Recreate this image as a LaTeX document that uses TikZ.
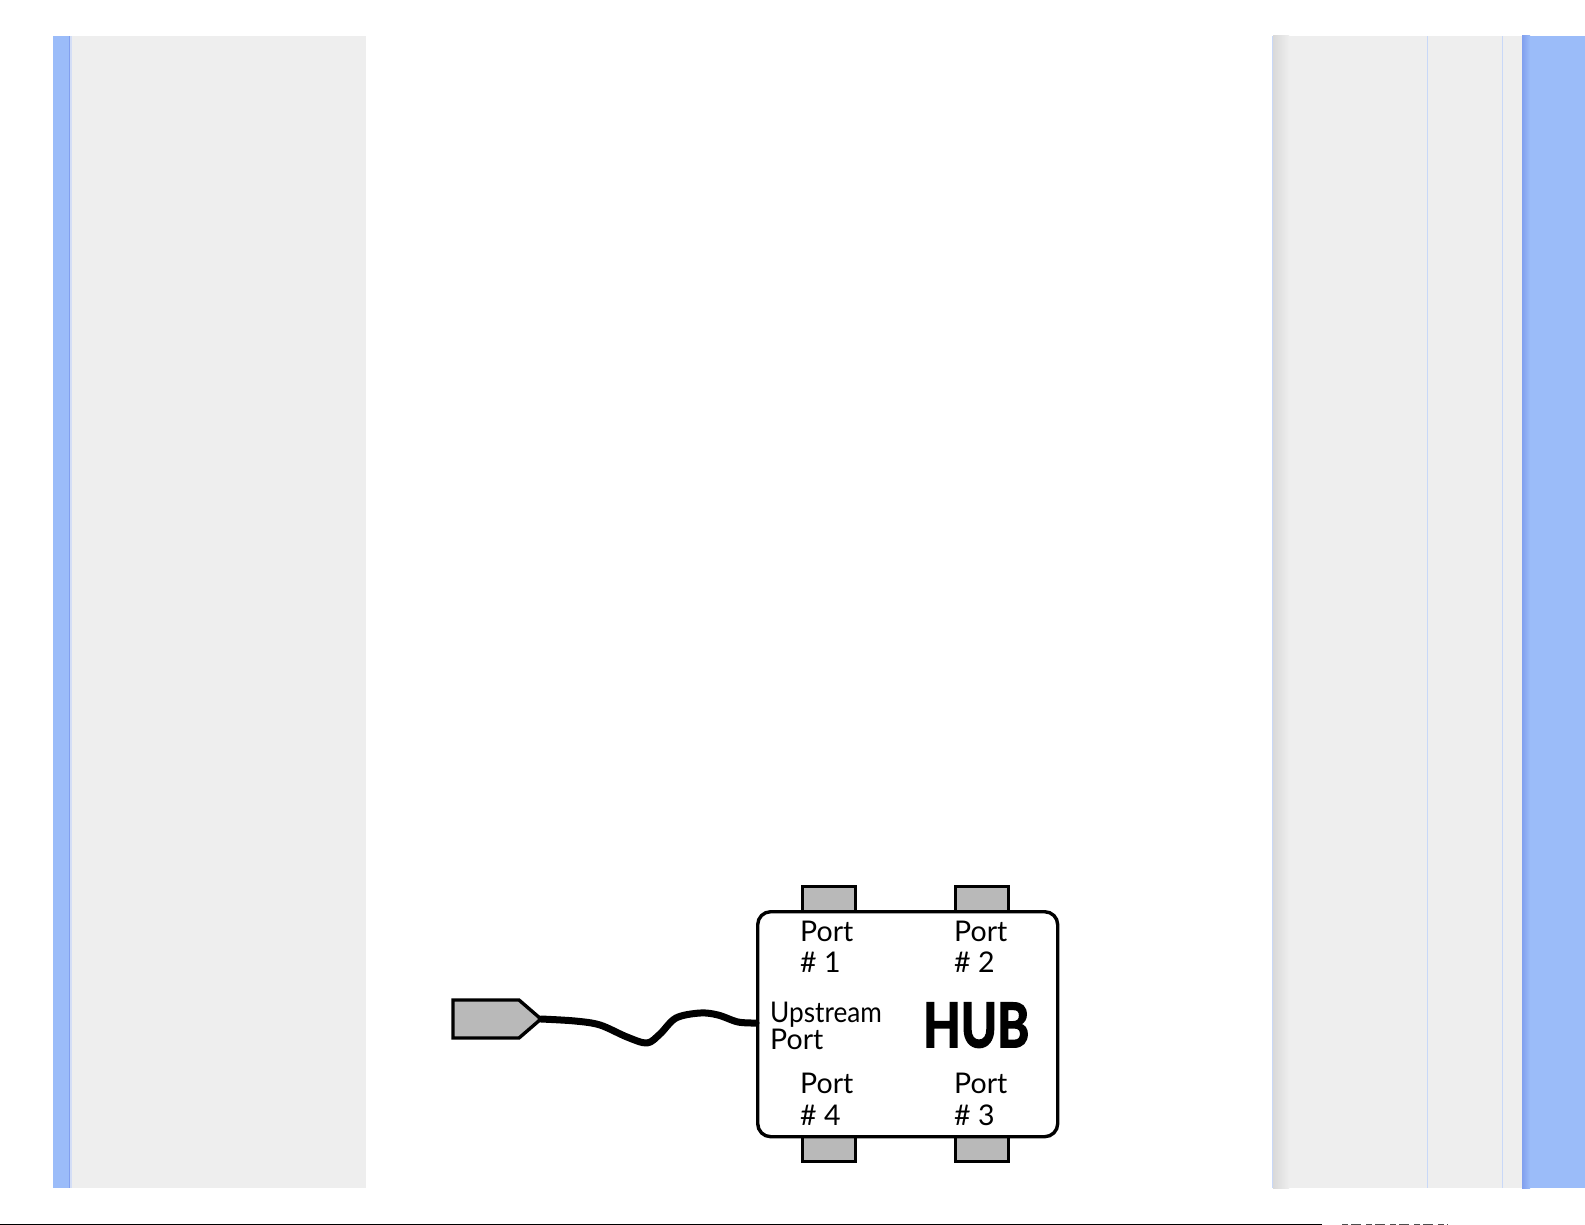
\documentclass[tikz,border=0pt]{standalone}
\usepackage{fontspec}
\setmainfont{Lato}
\newfontfamily\hubfont[FakeBold=3]{Lato}
\definecolor{stripblue}{HTML}{9BBCF9}
\definecolor{stripdark}{HTML}{819FEE}
\definecolor{striplight}{HTML}{D4DEF6}
\definecolor{panelgrey}{HTML}{EEEEEE}
\definecolor{panelshade}{HTML}{D9D9D9}
\definecolor{lineblue}{HTML}{C8D8F8}
\definecolor{portgrey}{HTML}{B9B9B9}
\tikzset{
  portbox/.style={draw=black, fill=portgrey, line width=3.4pt},
  hubbox/.style={draw=black, fill=white, line width=3.4pt, rounded corners=13pt, inner sep=0pt},
  cable/.style={draw=black, line width=7pt, line cap=round, line join=round},
  lbl/.style={inner sep=0pt, anchor=base west, font=\fontsize{28.5}{30}\selectfont},
}
\begin{document}
\begin{tikzpicture}[x=1pt,y=-1pt]
\useasboundingbox (0,0) rectangle (1585,1225);
\fill[white] (0,0) rectangle (1585,1225);
% left panel
\fill[stripblue] (53,36) rectangle (68.5,1188);
\fill[stripdark] (68.5,36) rectangle (70,1188);
\fill[striplight] (70,36) rectangle (72,1188);
\fill[panelgrey] (72,36) rectangle (366,1188);
% right panel
\fill[panelgrey] (1272,36) rectangle (1522,1188);
\shade[left color=panelshade, right color=panelgrey] (1273,36) rectangle (1289,1188);
\fill[lineblue] (1272,36) rectangle (1273.2,1188);
\fill[lineblue] (1426.5,36) rectangle (1427.7,1188);
\fill[lineblue] (1501.5,36) rectangle (1502.7,1188);
\fill[stripblue] (1522,36) rectangle (1585,1188);
\shade[left color=stripdark, right color=stripblue] (1522,36) rectangle (1530,1188);
% bottom line
\draw[black, line width=1.5pt] (0,1224.3) -- (1322,1224.3);
\draw[black!70, line width=1.2pt, dash pattern=on 6pt off 3pt on 10pt off 5pt] (1342,1224.3) -- (1448,1224.3);
% ports
\node[portbox, minimum width=53pt, minimum height=25pt, anchor=north west, inner sep=0pt] (p1) at (801,885) {};
\node[portbox, minimum width=53pt, minimum height=25pt, anchor=north west, inner sep=0pt] (p2) at (954,885) {};
\node[portbox, minimum width=53pt, minimum height=25pt, anchor=north west, inner sep=0pt] (p4) at (801,1135) {};
\node[portbox, minimum width=53pt, minimum height=25pt, anchor=north west, inner sep=0pt] (p3) at (954,1135) {};
% hub
\node[hubbox, minimum width=300pt, minimum height=225pt, anchor=north west] (hub) at (756,910) {};
% plug
\coordinate (plugtip) at (541,1019);
\draw[portbox, line join=miter] (453,1000) -- (519,1000) -- (plugtip) -- (519,1038) -- (453,1038) -- cycle;
\coordinate (hubin) at (756,1023);
\draw[cable] plot[smooth, tension=0.55] coordinates {(plugtip) (575,1021) (600,1025) (627,1037) (647,1043) (660,1034) (676,1018) (700,1013) (718,1015) (738,1022) (hubin)};
% labels
\node[lbl] (t1) at (800,941) {Port};
\node[lbl] (n1) at (800,972) {\# 1};
\node[lbl] (t2) at (954,941) {Port};
\node[lbl] (n2) at (954,972) {\# 2};
\node[lbl] (up) at (770,1022) {\scalebox{0.92}[1]{Upstream}};
\node[lbl] (upp) at (770,1049) {Port};
\node[inner sep=0pt, anchor=base west] (hubt) at (923,1047) {\scalebox{0.8}[1]{\fontsize{61}{64}\hubfont\bfseries HUB}};
\node[lbl] (t4) at (800,1093) {Port};
\node[lbl] (n4) at (800,1125) {\# 4};
\node[lbl] (t3) at (954,1093) {Port};
\node[lbl] (n3) at (954,1125) {\# 3};
\end{tikzpicture}
\end{document}
